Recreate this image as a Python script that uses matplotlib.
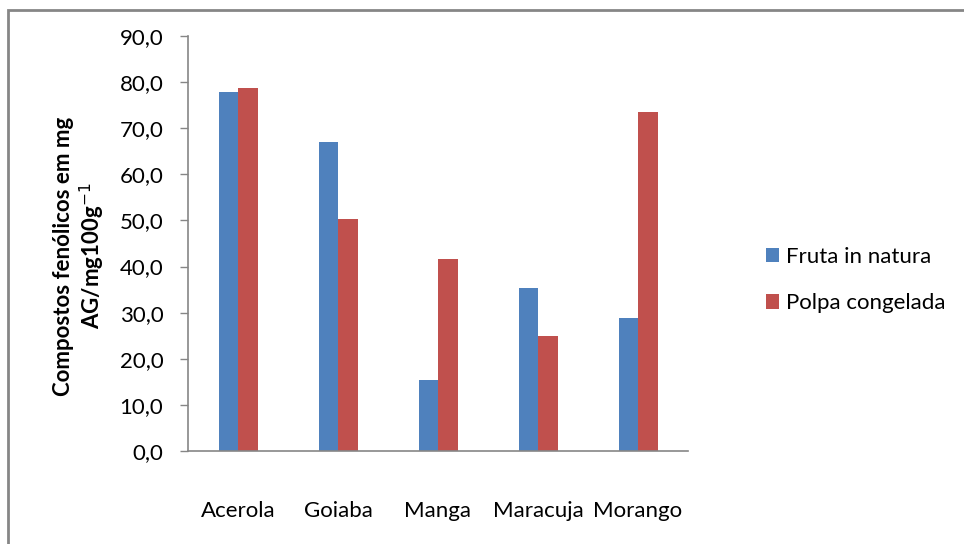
import numpy as np
import matplotlib.pyplot as plt
from matplotlib.patches import Rectangle

frutas = ['Acerola', 'Goiaba', 'Manga', 'Maracuja', 'Morango']
in_natura = [77.8, 67.0, 15.3, 35.4, 28.8]
congelada = [78.7, 50.3, 41.6, 24.9, 73.5]
yticks = np.arange(0, 91, 10)

plt.rcParams['font.family'] = ['Lato', 'DejaVu Sans']
fs = 16

fig = plt.figure(figsize=(9.64, 5.44), dpi=100)
ax = fig.add_axes([188/964, 1-451/544, 500/964, 415/544])

x = np.arange(len(frutas))
w = 0.195
ax.bar(x - w/2, in_natura, w, color='#4F81BD', label='Fruta in natura')
ax.bar(x + w/2, congelada, w, color='#C0504D', label='Polpa congelada')

ax.set_xlim(-0.5, len(frutas) - 0.5)
ax.set_ylim(0, 90)
ax.set_yticks(yticks)
ax.set_yticklabels([f'{v:.1f}'.replace('.', ',') for v in yticks], fontsize=fs)
ax.set_xticks(x)
ax.set_xticklabels(frutas, fontsize=fs)
ax.tick_params(axis='x', length=0, pad=36)
ax.tick_params(axis='y', length=5.8, width=1, color='#868686', pad=12, direction='out')

for s in ['top', 'right']:
    ax.spines[s].set_visible(False)
for s in ['left', 'bottom']:
    ax.spines[s].set_color('#868686')
    ax.spines[s].set_linewidth(1.2)

fig.text(80/964, 1-256/544, 'Compostos fenólicos em mg\nAG/mg100g$^{-1}$',
         rotation=90, ha='center', va='center', multialignment='center',
         fontsize=fs, fontweight='bold')

fig.legend(loc='center left', bbox_to_anchor=(746/964, 1-280/544), frameon=False,
           fontsize=fs, handlelength=0.6, handleheight=0.6, handletextpad=0.3,
           labelspacing=1.2)

# borda do gráfico (cortada à direita e embaixo)
fig.patches.append(Rectangle((8/964, -0.1), 1.1, 1 - 10/544 + 0.1, transform=fig.transFigure,
                             fill=False, edgecolor='#868686', linewidth=2))

fig.savefig('out.png', dpi=100)
